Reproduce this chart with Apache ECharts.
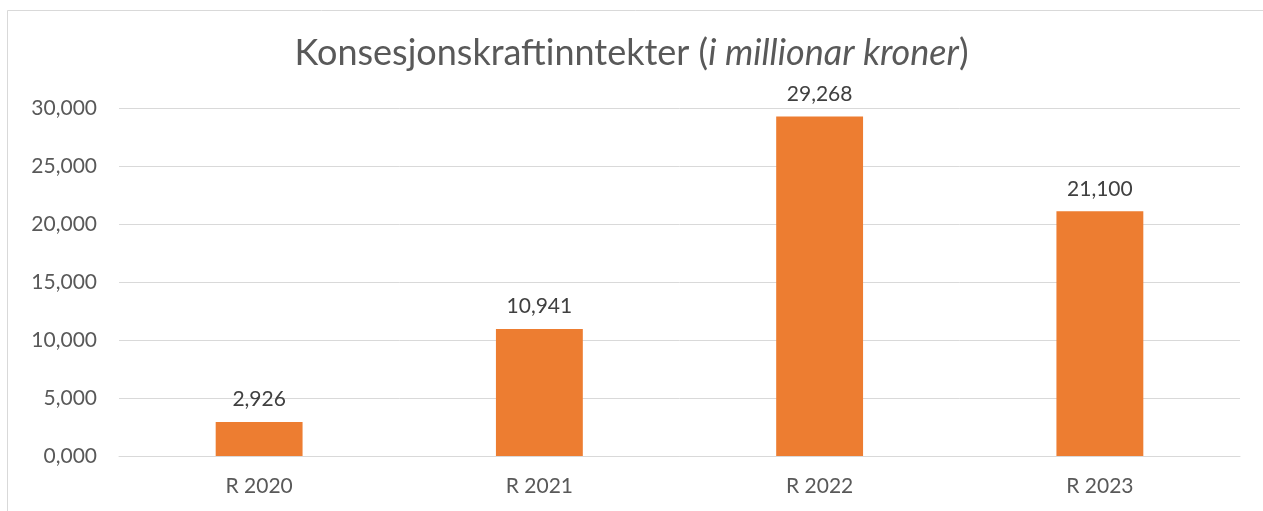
<!DOCTYPE html>
<html>
<head>
<meta charset="utf-8">
<script src="https://cdn.jsdelivr.net/npm/echarts@6/dist/echarts.min.js"></script>
<style>
html, body { margin: 0; padding: 0; background: #fff; }
#main { width: 1263px; height: 511px; }
</style>
</head>
<body>
<div id="main"></div>
<script>
// data
var categories = ['R 2020', 'R 2021', 'R 2022', 'R 2023']
var values = [2.926, 10.941, 29.268, 21.1]

// norsk format, komma som desimalskilje
function fmt (v) {
    return v.toFixed(3).replace('.', ',')
}

var myChart = echarts.init(document.getElementById('main'))
var option = {
    backgroundColor: '#fff',
    textStyle: { fontFamily: 'Lato' },
    title: {
        text: '{n|Konsesjonskraftinntekter (}{i|i millionar kroner}{n|)}',
        left: 'center',
        top: 30,
        textStyle: {
            fontWeight: 'normal',
            rich: {
                n: { fontFamily: 'Lato', fontSize: 36, color: '#595959', fontWeight: 'normal' },
                i: { fontFamily: 'Lato', fontSize: 36, color: '#595959', fontWeight: 'normal', fontStyle: 'italic' }
            }
        }
    },
    graphic: [
        {
            type: 'rect',
            shape: { x: 7.5, y: 10.5, width: 1300, height: 600 },
            style: { fill: 'none', stroke: '#d9d9d9', lineWidth: 1 },
            silent: true
        }
    ],
    grid: {
        left: 119,
        right: 23,
        top: 108,
        bottom: 55,
        containLabel: false
    },
    xAxis: {
        type: 'category',
        data: categories,
        axisTick: { show: false },
        axisLine: { lineStyle: { color: '#d9d9d9', width: 1 } },
        axisLabel: {
            color: '#595959',
            fontSize: 21,
            margin: 20
        }
    },
    yAxis: {
        type: 'value',
        min: 0,
        max: 30,
        interval: 5,
        axisLine: { show: false },
        axisTick: { show: false },
        splitLine: { lineStyle: { color: '#d9d9d9', width: 1 } },
        axisLabel: {
            color: '#595959',
            fontSize: 21,
            margin: 22,
            formatter: function (v) {
                return fmt(v)
            }
        }
    },
    series: [
        {
            type: 'bar',
            data: values,
            barWidth: '31%',
            itemStyle: { color: '#ed7d31' },
            label: {
                show: true,
                position: 'top',
                distance: 12,
                color: '#404040',
                fontSize: 21,
                formatter: function (p) {
                    return fmt(p.value)
                }
            }
        }
    ]
}
myChart.setOption(option)
</script>
</body>
</html>
